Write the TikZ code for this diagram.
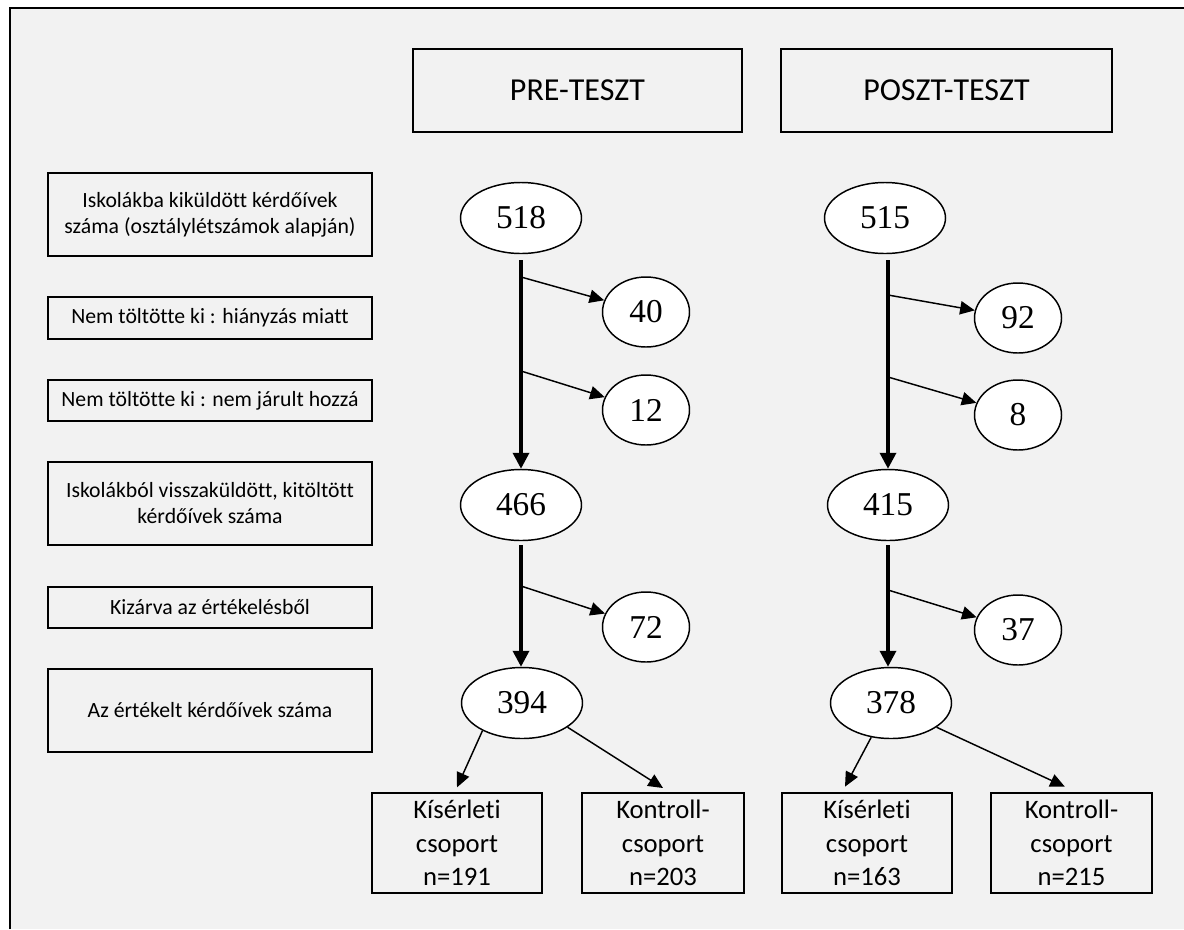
\documentclass[tikz,border=0pt]{standalone}
\usepackage{fontspec}
\setmainfont{Carlito}[Ligatures=NoCommon]
\newfontfamily\numfont{Liberation Serif}
\usetikzlibrary{shapes.geometric,arrows.meta}
\definecolor{bg}{HTML}{F2F2F2}
\begin{document}
\begin{tikzpicture}[x=0.75pt,y=-0.75pt,
  lbox/.style={draw,line width=1.5pt,minimum width=243pt,inner sep=0pt,align=center,font=\fontsize{16.3}{19.5}\selectfont},
  hbox/.style={draw,line width=1.5pt,minimum height=62.25pt,inner sep=0pt,font=\fontsize{24}{28}\selectfont},
  gbox/.style={draw,line width=1.5pt,minimum height=75pt,inner sep=0pt,align=center,font=\fontsize{20}{25}\selectfont},
  bigell/.style={ellipse,draw,fill=white,line width=1.1pt,minimum width=90.75pt,minimum height=53.25pt,inner sep=0pt,font=\numfont\fontsize{25}{28}\selectfont},
  smell/.style={ellipse,draw,fill=white,line width=1.1pt,minimum width=65.25pt,minimum height=52.5pt,inner sep=0pt,font=\numfont\fontsize{25}{28}\selectfont},
  trunk/.style={line width=2.6pt,-{Triangle[length=12pt,width=12pt]}},
  br/.style={line width=1.1pt,-{Triangle[length=11pt,width=10pt]}}
]
\useasboundingbox (0,0) rectangle (1184,929);
\fill[bg] (10,8) rectangle (1184,929);
\draw[line width=2pt] (10,929) -- (10,8) -- (1184,8);

% header
\node[hbox,minimum width=246.75pt] (pre) at (577.5,90.5) {PRE-TESZT};
\node[hbox,minimum width=248.25pt] (post) at (946.5,90.5) {POSZT-TESZT};

% left labels
\node[lbox,minimum height=62.25pt] (l1) at (210,214.5) {Iskolákba kiküldött kérdőívek\\száma (osztálylétszámok alapján)};
\node[lbox,minimum height=31.5pt] (l2) at (210,318) {Nem töltötte ki : hiányzás miatt};
\node[lbox,minimum height=31pt] (l3) at (210,400.5) {Nem töltötte ki : nem járult hozzá};
\node[lbox,minimum height=62.25pt] (l4) at (210,503.5) {Iskolákból visszaküldött, kitöltött\\kérdőívek száma};
\node[lbox,minimum height=31pt] (l5) at (210,607.5) {Kizárva az értékelésből};
\node[lbox,minimum height=62.25pt] (l6) at (210,710.5) {Az értékelt kérdőívek száma};

% pre column
\node[bigell] (a518) at (521,218) {518};
\node[smell] (a40) at (646,312) {40};
\node[smell] (a12) at (646,410) {12};
\node[bigell] (a466) at (521,505) {466};
\node[smell] (a72) at (646,627) {72};
\node[bigell] (a394) at (522,703) {394};

% post column
\node[bigell] (b515) at (885,218) {515};
\node[smell] (b92) at (1018,318) {92};
\node[smell] (b8) at (1018,415) {8};
\node[bigell] (b415) at (888,505) {415};
\node[smell] (b37) at (1018,630) {37};
\node[bigell] (b378) at (891,703) {378};

% groups
\node[gbox,minimum width=127.5pt] (k1) at (457,843) {Kísérleti\\csoport\\n=191};
\node[gbox,minimum width=121.5pt] (k2) at (663,843) {Kontroll-\\csoport\\n=203};
\node[gbox,minimum width=127.5pt] (k3) at (867,843) {Kísérleti\\csoport\\n=163};
\node[gbox,minimum width=120.75pt] (k4) at (1071.5,843) {Kontroll-\\csoport\\n=215};

% branch points
\coordinate (p1) at (521,277);
\coordinate (p2) at (521,371);
\coordinate (p3) at (521,586);
\coordinate (q1) at (888,295);
\coordinate (q2) at (888,377);
\coordinate (q3) at (888,590);

% trunks
\draw[trunk] ([yshift=-4.5pt]a518.south -| p1) -- (a466.north -| p1);
\draw[trunk] ([yshift=-3pt]a466.south -| p3) -- (a394.north -| p3);
\draw[trunk] ([yshift=-4.5pt]b515.south -| q1) -- (b415.north -| q1);
\draw[trunk] ([yshift=-3pt]b415.south -| q3) -- (b378.north -| q3);

% branches
\draw[br] (p1) -- (a40);
\draw[br] (p2) -- (a12);
\draw[br] (p3) -- (a72);
\draw[br] (q1) -- (b92);
\draw[br] (q2) -- (b8);
\draw[br] (q3) -- (b37);

% split arrows
\draw[br] (a394.215) -- ([yshift=3.5pt]k1.north);
\draw[br] (a394.332) -- ([yshift=3pt]k2.north);
\draw[br] (b378.240) -- ([xshift=-16.5pt,yshift=4pt]k3.north);
\draw[br] (b378.332) -- ([xshift=-5pt,yshift=4pt]k4.north);
\end{tikzpicture}
\end{document}
